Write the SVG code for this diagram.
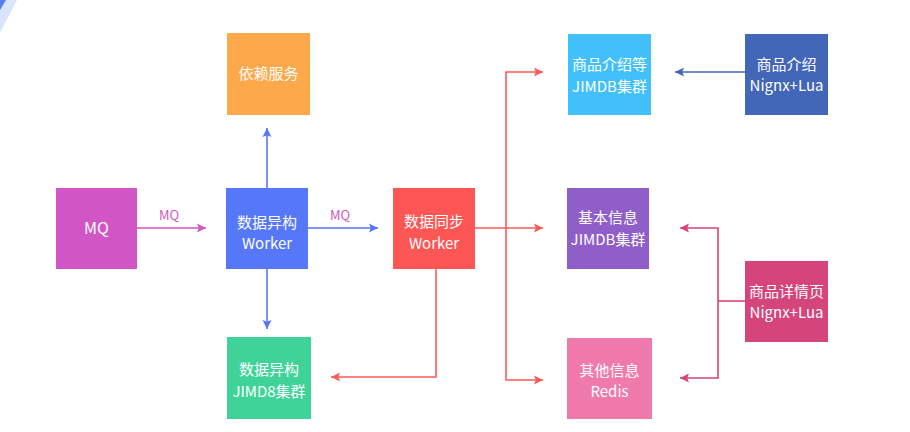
<svg xmlns="http://www.w3.org/2000/svg" width="910" height="432" viewBox="0 0 910 432">
<style>
.node text{font-family:"Noto Sans CJK SC","Liberation Sans",sans-serif;font-size:15px;fill:#fff;text-anchor:middle}
.lbl{font-family:"Noto Sans CJK SC","Liberation Sans",sans-serif;font-size:13px;fill:#d155c4;text-anchor:middle}
.c{fill:none;stroke-width:1.6}
</style>
<defs>
<marker id="aPink" viewBox="0 0 10 10" refX="10" refY="5" markerWidth="9" markerHeight="10" markerUnits="userSpaceOnUse" orient="auto"><path d="M0,0L10,5L0,10L2,5z" fill="#d155c4"/></marker>
<marker id="aBlue" viewBox="0 0 10 10" refX="10" refY="5" markerWidth="9" markerHeight="10" markerUnits="userSpaceOnUse" orient="auto"><path d="M0,0L10,5L0,10L2,5z" fill="#5577f8"/></marker>
<marker id="aRed" viewBox="0 0 10 10" refX="10" refY="5" markerWidth="9" markerHeight="10" markerUnits="userSpaceOnUse" orient="auto"><path d="M0,0L10,5L0,10L2,5z" fill="#fe5a5a"/></marker>
<marker id="aNavy" viewBox="0 0 10 10" refX="10" refY="5" markerWidth="9" markerHeight="10" markerUnits="userSpaceOnUse" orient="auto"><path d="M0,0L10,5L0,10L2,5z" fill="#4266b8"/></marker>
<marker id="aRose" viewBox="0 0 10 10" refX="10" refY="5" markerWidth="9" markerHeight="10" markerUnits="userSpaceOnUse" orient="auto"><path d="M0,0L10,5L0,10L2,5z" fill="#d5447a"/></marker>
</defs>
<rect width="910" height="432" fill="#fff"/>
<polygon points="0,0 17,0 0,33" fill="#d9e4fd"/>
<polygon points="0,0 6,0 0,10" fill="#5b7ff0"/>

<g id="connectors">
<path class="c" d="M137,228H206" stroke="#d155c4" marker-end="url(#aPink)"/>
<text class="lbl" x="169" y="220">MQ</text>
<path class="c" d="M308,228H378" stroke="#5577f8" marker-end="url(#aBlue)"/>
<text class="lbl" x="340" y="220">MQ</text>
<path class="c" d="M267,188V128" stroke="#5577f8" marker-end="url(#aBlue)"/>
<path class="c" d="M267,269V329" stroke="#5577f8" marker-end="url(#aBlue)"/>
<path class="c" d="M475,228H543" stroke="#fe5a5a" marker-end="url(#aRed)"/>
<path class="c" d="M506,228V72H543" stroke="#fe5a5a" marker-end="url(#aRed)"/>
<path class="c" d="M506,228V380H543" stroke="#fe5a5a" marker-end="url(#aRed)"/>
<path class="c" d="M436,269V377H331" stroke="#fe5a5a" marker-end="url(#aRed)"/>
<path class="c" d="M745,72H675" stroke="#4266b8" marker-end="url(#aNavy)"/>
<path class="c" d="M745,301H718" stroke="#d5447a"/>
<path class="c" d="M718,301V228H680" stroke="#d5447a" marker-end="url(#aRose)"/>
<path class="c" d="M718,301V378H680" stroke="#d5447a" marker-end="url(#aRose)"/>
</g>

<g id="mq" class="node"><rect x="56" y="188" width="81" height="81" fill="#d155c4"/><text x="96.5" y="234" style="font-size:16px">MQ</text></g>
<g id="worker1" class="node"><rect x="226" y="188" width="82" height="81" fill="#5577f8"/><text x="267" y="228">数据异构</text><text x="267" y="249">Worker</text></g>
<g id="dep" class="node"><rect x="227" y="33" width="83" height="82" fill="#fea84c"/><text x="268.5" y="79">依赖服务</text></g>
<g id="jimd8" class="node"><rect x="227" y="337" width="84" height="82" fill="#3fd39a"/><text x="269" y="375">数据异构</text><text x="269" y="397">JIMD8集群</text></g>
<g id="worker2" class="node"><rect x="393" y="188" width="82" height="81" fill="#fe5555"/><text x="434" y="227">数据同步</text><text x="434" y="249">Worker</text></g>
<g id="intro" class="node"><rect x="568" y="34" width="83" height="81" fill="#41c0fb"/><text x="609.5" y="70">商品介绍等</text><text x="609.5" y="92">JIMDB集群</text></g>
<g id="basic" class="node"><rect x="567" y="188" width="82" height="81" fill="#905ec8"/><text x="608" y="223">基本信息</text><text x="608" y="245">JIMDB集群</text></g>
<g id="redis" class="node"><rect x="567" y="338" width="85" height="81" fill="#f07aac"/><text x="609.5" y="376">其他信息</text><text x="609.5" y="397">Redis</text></g>
<g id="introNginx" class="node"><rect x="745" y="34" width="83" height="81" fill="#4266b8"/><text x="786.5" y="70">商品介绍</text><text x="786.5" y="91">Nignx+Lua</text></g>
<g id="detailNginx" class="node"><rect x="745" y="261" width="83" height="81" fill="#d5447a"/><text x="786.5" y="297">商品详情页</text><text x="786.5" y="318">Nignx+Lua</text></g>
</svg>
